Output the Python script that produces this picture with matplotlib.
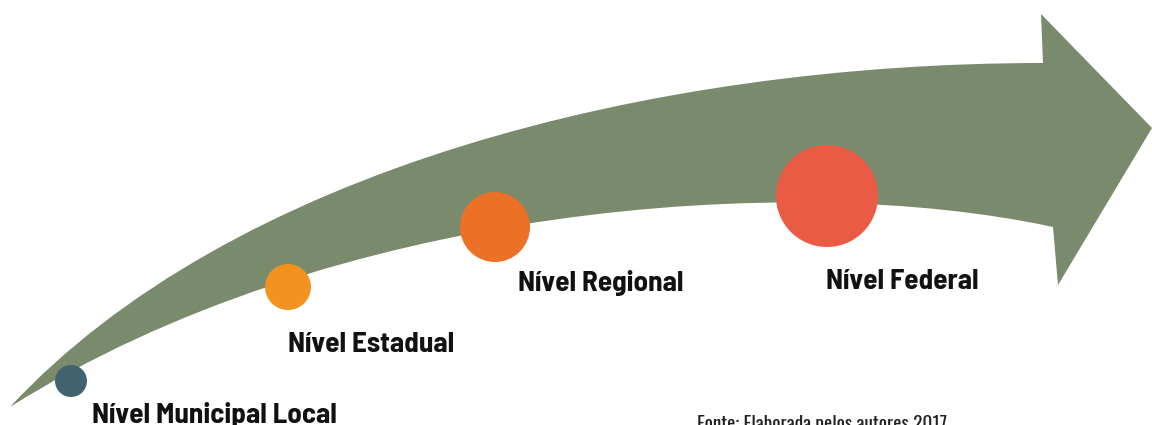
import matplotlib
matplotlib.use("Agg")
import matplotlib.pyplot as plt
from matplotlib.path import Path
from matplotlib.patches import PathPatch, Circle

# níveis (da esquerda para a direita)
levels = ["Nível Municipal Local", "Nível Estadual", "Nível Regional", "Nível Federal"]
circle_x = [71, 288, 495, 827]
circle_y = [381, 287, 227, 196]
circle_r = [16, 23, 35, 51]
circle_colors = ["#41626E", "#F39221", "#ED7027", "#E95B45"]
label_x = [92, 288, 518, 826]
label_y = [423, 352, 291, 289]

# contorno da seta curva (coordenadas em pixels, y para baixo)
tail = (10, 407)
upper_ctrl = [(230, 170), (650, 63), (1043, 63)]
head_pts = [(1041, 14), (1152, 128), (1058, 285), (1053, 227)]
lower_ctrl = [(790, 170), (330, 205), tail]

source_text = "Fonte: Elaborada pelos autores 2017"

fig = plt.figure(figsize=(11.52, 4.25), dpi=100)
ax = fig.add_axes([0, 0, 1, 1])
ax.set_xlim(0, 1152)
ax.set_ylim(425, 0)
ax.axis("off")

verts = [tail] + upper_ctrl + head_pts + lower_ctrl + [tail]
codes = ([Path.MOVETO] + [Path.CURVE4] * 3 + [Path.LINETO] * 4
         + [Path.CURVE4] * 3 + [Path.CLOSEPOLY])
ax.add_patch(PathPatch(Path(verts, codes), facecolor="#7A8A6C", edgecolor="none"))

for x, y, r, c in zip(circle_x, circle_y, circle_r, circle_colors):
    ax.add_patch(Circle((x, y), r, facecolor=c, edgecolor="none", zorder=3))

for text, x, y in zip(levels, label_x, label_y):
    ax.text(x, y, text, fontsize=21, fontweight="bold", color="#111111",
            family=["Barlow Semi Condensed", "DejaVu Sans"], ha="left", va="baseline")

ax.text(697, 430, source_text, fontsize=13.9, color="#222222",
        family=["Oswald", "DejaVu Sans"], ha="left", va="baseline")

fig.savefig("out.png", dpi=100)
